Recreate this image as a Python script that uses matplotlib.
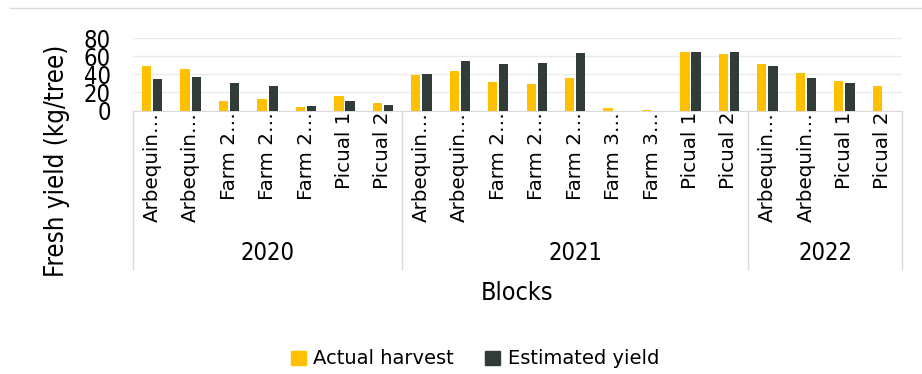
import numpy as np
import matplotlib
matplotlib.use('Agg')
from matplotlib import pyplot as plt
from matplotlib.lines import Line2D
from matplotlib.patches import Patch

# blocks per season, Excel-style truncated names
blocks = ['Arbequin…', 'Arbequin…', 'Farm 2…', 'Farm 2…', 'Farm 2…', 'Picual 1', 'Picual 2',
          'Arbequin…', 'Arbequin…', 'Farm 2…', 'Farm 2…', 'Farm 2…', 'Farm 3…', 'Farm 3…',
          'Picual 1', 'Picual 2',
          'Arbequin…', 'Arbequin…', 'Picual 1', 'Picual 2']
years = ['2020', '2021', '2022']
year_sizes = [7, 9, 4]

actual = [48.8, 45.8, 10.9, 13.1, 3.4, 16.5, 7.9,
          39.4, 43.2, 31.9, 29.3, 36.4, 2.6, 0.4, 64.6, 62.7,
          51.5, 40.9, 33.1, 26.7]
estimated = [34.6, 37.2, 30.8, 26.7, 4.9, 10.5, 6.0,
             39.8, 54.1, 51.8, 52.2, 63.1, 0.0, 0.0, 64.6, 64.2,
             49.2, 36.4, 30.0, np.nan]

orange = '#FFC000'
dark = '#313B37'
cond = dict(family='DejaVu Sans', stretch='condensed')

fig = plt.figure(figsize=(9.22, 3.74), dpi=100)
W, H = 922, 374
ax = fig.add_axes([133 / W, (H - 110.5) / H, (902 - 133) / W, 72.5 / H])

x = np.arange(len(blocks)) + 0.5
ax.bar(x - 0.145, actual, width=0.24, color=orange, zorder=3)
ax.bar(x + 0.145, estimated, width=0.24, color=dark, zorder=3)

ax.set_xlim(0, len(blocks))
ax.set_ylim(0, 80)
ax.set_yticks([0, 20, 40, 60, 80])
ax.set_yticklabels(['0', '20', '40', '60', '80'], fontsize=17, **cond)
ax.tick_params(axis='y', length=0, pad=16)
ax.grid(axis='y', color='#EBEBEB', linewidth=1, zorder=0)

ax.set_xticks(x)
ax.set_xticklabels(blocks, rotation=90, fontsize=14.3, va='top', ha='center')
ax.tick_params(axis='x', length=0, pad=1)

for side in ['top', 'right', 'left']:
    ax.spines[side].set_visible(False)
ax.spines['bottom'].set_color('#D9D9D9')

# group brackets and year labels under the block names
trans = ax.get_xaxis_transform()
edges = np.concatenate([[0], np.cumsum(year_sizes)])
for e in edges:
    ax.add_line(Line2D([e, e], [0, -2.19], transform=trans, color='#D9D9D9',
                       linewidth=1, clip_on=False))
for i, yr in enumerate(years):
    mid = (edges[i] + edges[i + 1]) / 2
    ax.text(mid, -1.97, yr, transform=trans, ha='center', va='center',
            fontsize=17, **cond)

fig.text(517 / W, 1 - 293 / H, 'Blocks', ha='center', va='center', fontsize=18, **cond)
fig.text(57 / W, 1 - 161 / H, 'Fresh yield (kg/tree)', ha='center', va='center',
         rotation=90, fontsize=18.5, **cond)

# chart border line at the top
fig.add_artist(Line2D([10 / W, 1], [1 - 8 / H, 1 - 8 / H], color='#D9D9D9', linewidth=1))

handles = [Patch(color=orange, label='Actual harvest'), Patch(color=dark, label='Estimated yield')]
fig.legend(handles=handles, loc='center', bbox_to_anchor=(475 / W, 1 - 359 / H), ncol=2,
           frameon=False, fontsize=14, handlelength=0.75, handleheight=0.75,
           handletextpad=0.4, columnspacing=1.6)

fig.savefig('out.png', dpi=100)
